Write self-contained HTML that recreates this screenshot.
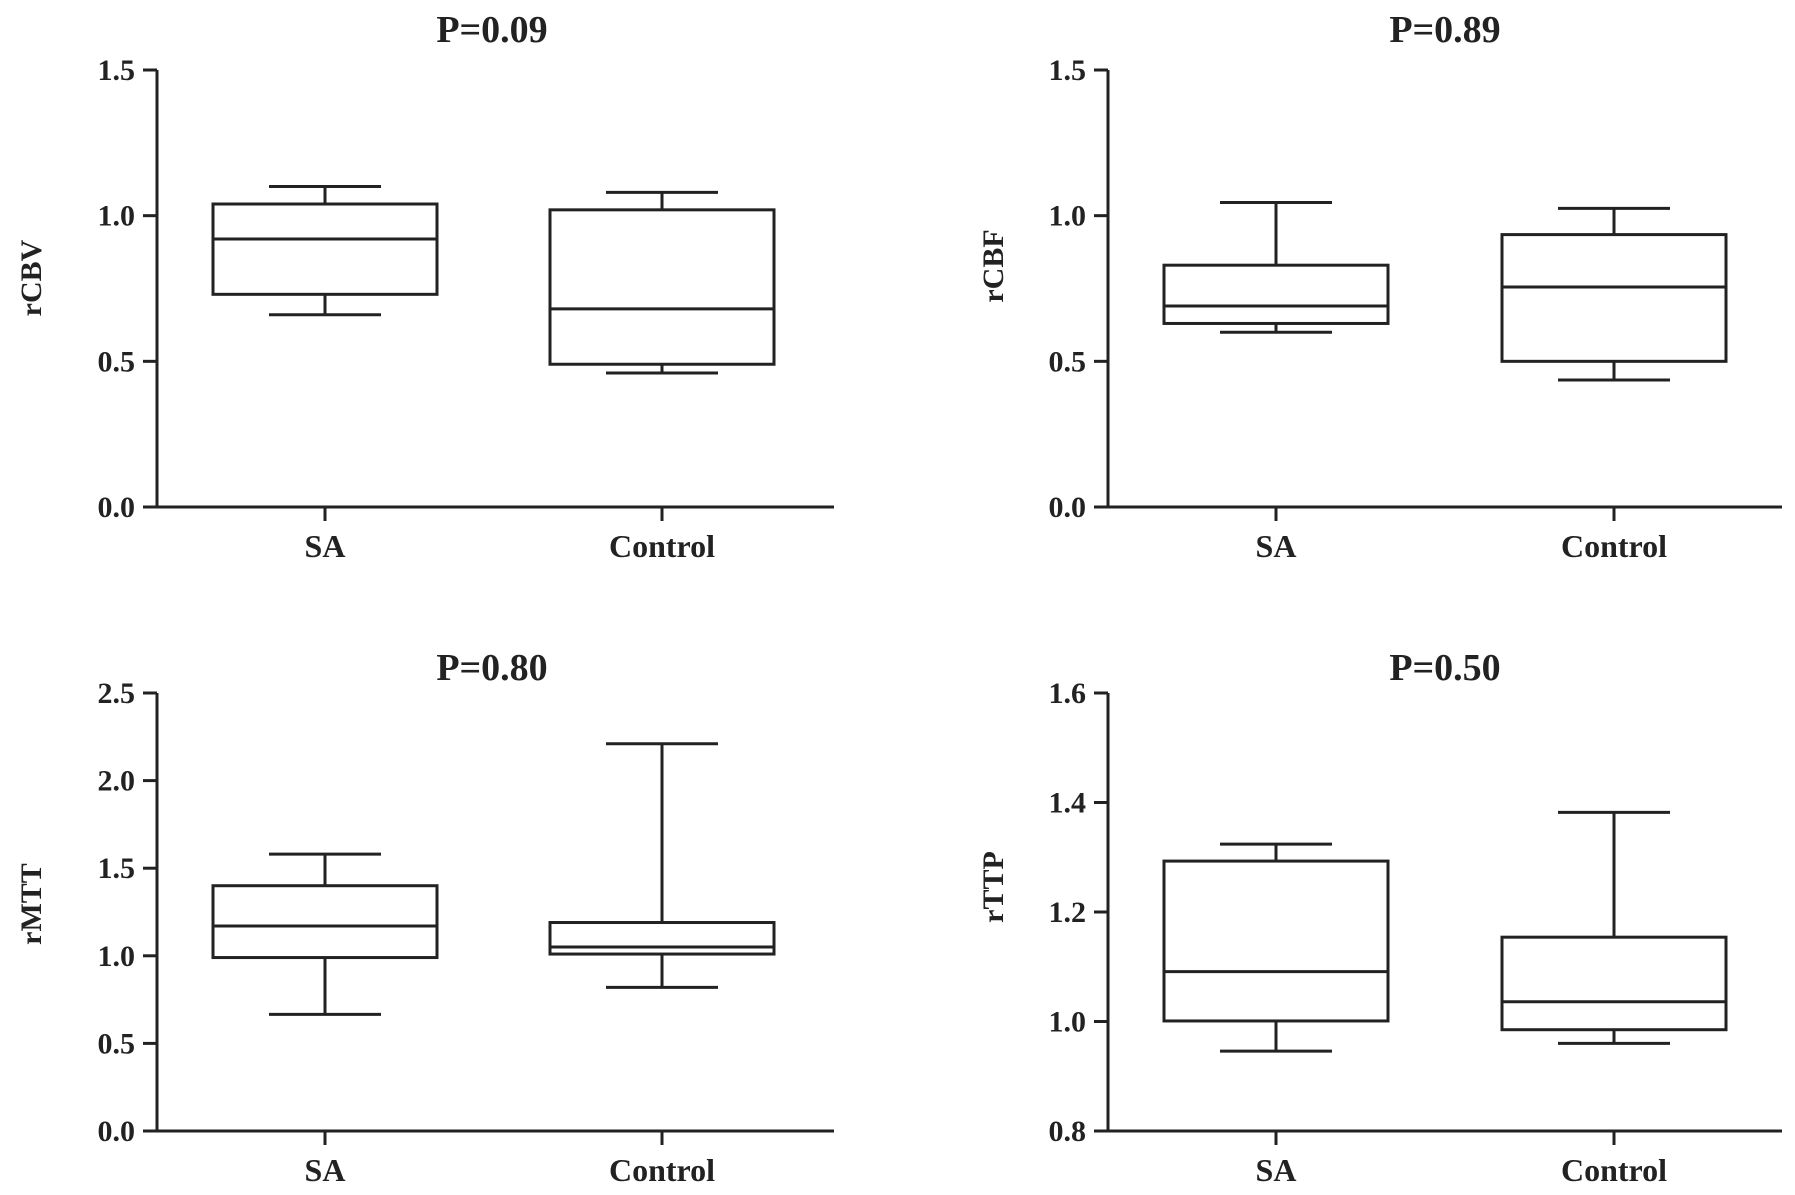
<!DOCTYPE html>
<html><head><meta charset="utf-8"><style>
html,body{margin:0;padding:0;background:#fff;}
svg{display:block;}
text{font-family:"Liberation Serif",serif;font-weight:bold;fill:#222;}
</style></head><body>
<svg id="chart" width="1795" height="1195" xmlns="http://www.w3.org/2000/svg"></svg>
<script>
const categories = ["SA", "Control"];
const titles = ["P=0.09", "P=0.89", "P=0.80", "P=0.50"];
const yLabels = ["rCBV", "rCBF", "rMTT", "rTTP"];
const yTicks1 = [0.0, 0.5, 1.0, 1.5];
const yTicks2 = [0.0, 0.5, 1.0, 1.5];
const yTicks3 = [0.0, 0.5, 1.0, 1.5, 2.0, 2.5];
const yTicks4 = [0.8, 1.0, 1.2, 1.4, 1.6];
// [min, q1, median, q3, max] per category
const rCBV_SA = [0.66, 0.73, 0.92, 1.04, 1.10];
const rCBV_Control = [0.46, 0.49, 0.68, 1.02, 1.08];
const rCBF_SA = [0.60, 0.63, 0.69, 0.83, 1.045];
const rCBF_Control = [0.436, 0.50, 0.755, 0.935, 1.025];
const rMTT_SA = [0.666, 0.99, 1.17, 1.40, 1.58];
const rMTT_Control = [0.82, 1.01, 1.05, 1.19, 2.21];
const rTTP_SA = [0.946, 1.001, 1.091, 1.293, 1.324];
const rTTP_Control = [0.960, 0.985, 1.036, 1.154, 1.382];

const NS = "http://www.w3.org/2000/svg";
const svg = document.getElementById("chart");
function mk(tag, attrs, parent) {
  const e = document.createElementNS(NS, tag);
  for (const k in attrs) e.setAttribute(k, attrs[k]);
  (parent || svg).appendChild(e);
  return e;
}
const panels = [
  {x0:157, x1:834, yTop:70, yBot:507, ticks:yTicks1, series:[rCBV_SA, rCBV_Control], cx:[325,662], title:titles[0], titleX:492, titleY:42, ylab:yLabels[0], ylabX:30, ylabY:278, catY:557, name:"rcbv"},
  {x0:1108, x1:1782, yTop:70, yBot:507, ticks:yTicks2, series:[rCBF_SA, rCBF_Control], cx:[1276,1614], title:titles[1], titleX:1445, titleY:42, ylab:yLabels[1], ylabX:992, ylabY:266, catY:557, name:"rcbf"},
  {x0:157, x1:834, yTop:693, yBot:1131, ticks:yTicks3, series:[rMTT_SA, rMTT_Control], cx:[325,662], title:titles[2], titleX:492, titleY:680, ylab:yLabels[2], ylabX:30, ylabY:904, catY:1181, name:"rmtt"},
  {x0:1108, x1:1782, yTop:693, yBot:1131, ticks:yTicks4, series:[rTTP_SA, rTTP_Control], cx:[1276,1614], title:titles[3], titleX:1445, titleY:680, ylab:yLabels[3], ylabX:992, ylabY:887, catY:1181, name:"rttp"}
];
const S = "#222", W = 3;
panels.forEach(p => {
  const g = mk("g", {});
  
  
  const tmin = p.ticks[0], tmax = p.ticks[p.ticks.length-1];
  const y = v => p.yBot - (v - tmin) / (tmax - tmin) * (p.yBot - p.yTop);
  const ya = mk("line", {x1:p.x0, y1:p.yTop, x2:p.x0, y2:p.yBot, stroke:S, "stroke-width":W}, g);
  
  
  const xa = mk("line", {x1:p.x0-14, y1:p.yBot, x2:p.x1, y2:p.yBot, stroke:S, "stroke-width":W}, g);
  
  
  p.ticks.forEach(t => {
    mk("line", {x1:p.x0-14, y1:y(t), x2:p.x0, y2:y(t), stroke:S, "stroke-width":W}, g);
    const tl = mk("text", {x:p.x0-22, y:y(t)+10, "font-size":30, "text-anchor":"end"}, g);
    tl.textContent = t.toFixed(1);
    
    
  });
  const tt = mk("text", {x:p.titleX, y:p.titleY, "font-size":38, "text-anchor":"middle"}, g);
  tt.textContent = p.title;
  
  
  const yl = mk("text", {x:0, y:0, "font-size":30, "text-anchor":"middle", transform:`translate(${p.ylabX+11},${p.ylabY}) rotate(-90)`}, g);
  yl.textContent = p.ylab;
  
  
  categories.forEach((c, i) => {
    const cx = p.cx[i];
    mk("line", {x1:cx, y1:p.yBot, x2:cx, y2:p.yBot+14, stroke:S, "stroke-width":W}, g);
    const cl = mk("text", {x:cx, y:p.catY, "font-size":32, "text-anchor":"middle"}, g);
    cl.textContent = c;
    
    
    const d = p.series[i];
    const bg = mk("g", {fill:"none", stroke:S, "stroke-width":W}, g);
    
    
    const hw = 112, cw = 56;
    mk("line", {x1:cx, y1:y(d[0]), x2:cx, y2:y(d[1])}, bg);
    mk("line", {x1:cx, y1:y(d[3]), x2:cx, y2:y(d[4])}, bg);
    mk("line", {x1:cx-cw, y1:y(d[0]), x2:cx+cw, y2:y(d[0])}, bg);
    mk("line", {x1:cx-cw, y1:y(d[4]), x2:cx+cw, y2:y(d[4])}, bg);
    mk("rect", {x:cx-hw, y:y(d[3]), width:2*hw, height:y(d[1])-y(d[3]), fill:"#fff"}, bg);
    mk("line", {x1:cx-hw, y1:y(d[2]), x2:cx+hw, y2:y(d[2])}, bg);
  });
});
</script>
</body></html>
